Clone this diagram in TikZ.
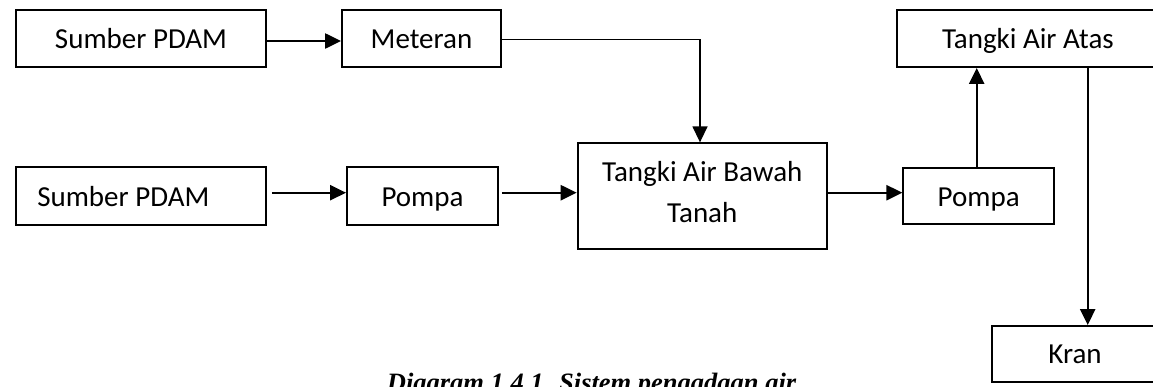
\documentclass[tikz,border=0pt]{standalone}
\usepackage{fontspec}
\setmainfont{Carlito}
\newfontfamily\capfont{Liberation Serif}
\usetikzlibrary{arrows.meta}
\begin{document}
\begin{tikzpicture}[x=1pt,y=-1pt,
  box/.style={draw, line width=1.9pt, rectangle, inner sep=0pt,
    font=\fontsize{29}{41}\selectfont, text height=20pt, text depth=0pt},
  arr/.style={line width=2.4pt, -{Triangle[length=16pt,width=15pt]}}]
\useasboundingbox (0,0) rectangle (1153,386);
\clip (0,0) rectangle (1153,386);
\node[box, minimum width=250pt, minimum height=57pt] (s1) at (141,38.5) {Sumber PDAM};
\node[box, minimum width=159pt, minimum height=57pt] (met) at (421.5,38.5) {Meteran};
\node[box, minimum width=250pt, minimum height=57.7pt] (s2) at (141,196.2) {Sumber PDAM\hspace*{35.4pt}};
\node[box, minimum width=151pt, minimum height=57.7pt] (p1) at (422.5,196.2) {Pompa};
\node[box, minimum width=249.3pt, minimum height=105.4pt, text depth=48.6pt] (tbawah) at (702.3,196)
  {\begin{tabular}[t]{@{}c@{}}Tangki Air Bawah\\Tanah\end{tabular}};
\node[box, minimum width=150.7pt, minimum height=56.6pt] (p2) at (978.7,196) {Pompa};
\node[box, minimum width=262.3pt, minimum height=57pt] (tatas) at (1027.9,38.5) {Tangki Air Atas};
\node[box, minimum width=165.4pt, minimum height=55.7pt] (kran) at (1075,353.85) {Kran};
\node[anchor=base west, inner sep=0pt, font=\capfont\bfseries\itshape\fontsize{26.5}{30}\selectfont] (cap) at (386.7,391) {Diagram 1.4.1. Sistem pengadaan air};
\draw[arr] (s1.east |- 0,41) -- (met.west |- 0,41);
\draw[arr, line width=1.4pt] (met.east |- 0,39.3) -| (tbawah.north -| 700,0);
\draw[arr] ([xshift=5pt]s2.east |- 0,192.7) -- (p1.west |- 0,192.7);
\draw[arr] ([xshift=3pt]p1.east |- 0,192.7) -- (tbawah.west |- 0,192.7);
\draw[arr] (tbawah.east |- 0,192.7) -- (p2.west |- 0,192.7);
\draw[arr] (p2.north -| 976.7,0) -- (tatas.south -| 976.7,0);
\draw[arr] (tatas.south -| 1087.7,0) -- (kran.north -| 1087.7,0);
\end{tikzpicture}
\end{document}
